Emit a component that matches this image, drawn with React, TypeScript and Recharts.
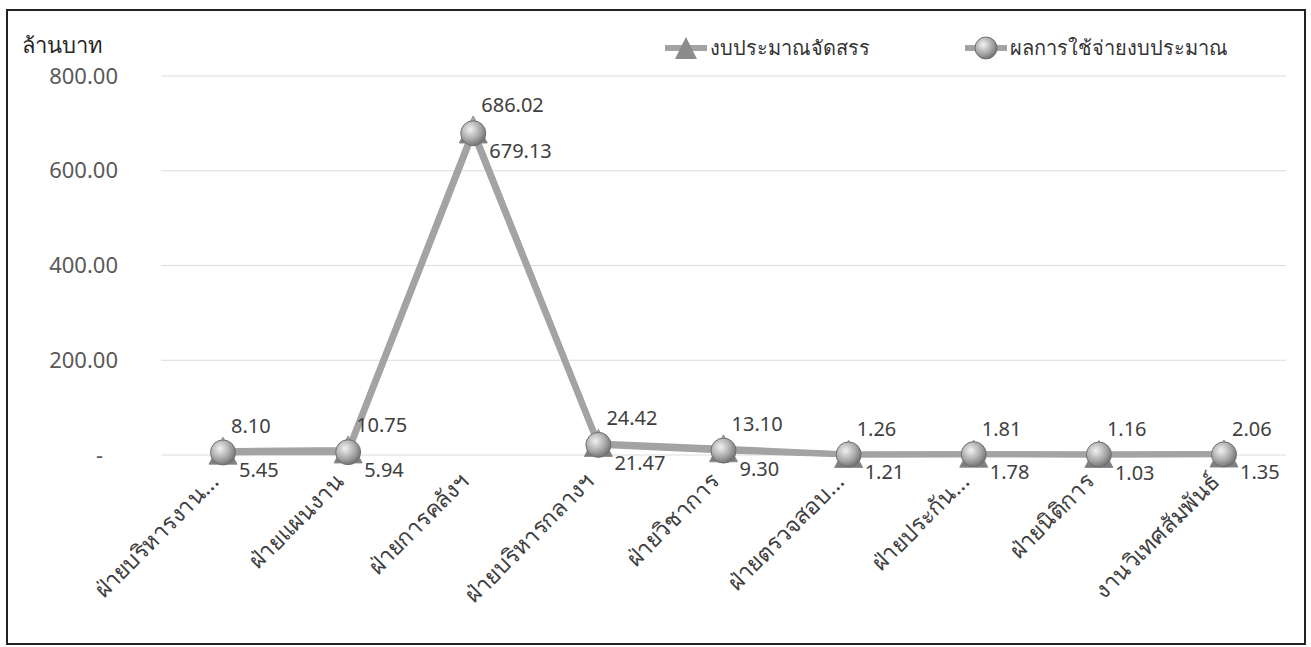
import React from 'react';
import { LineChart, Line, XAxis, YAxis, CartesianGrid, Legend } from 'recharts';

const categories = [
  'ฝ่ายบริหารงาน...',
  'ฝ่ายแผนงาน',
  'ฝ่ายการคลังฯ',
  'ฝ่ายบริหารกลางฯ',
  'ฝ่ายวิชาการ',
  'ฝ่ายตรวจสอบ...',
  'ฝ่ายประกัน...',
  'ฝ่ายนิติการ',
  'งานวิเทศสัมพันธ์',
];
const allocated = [8.1, 10.75, 686.02, 24.42, 13.1, 1.26, 1.81, 1.16, 2.06];
const spent = [5.45, 5.94, 679.13, 21.47, 9.3, 1.21, 1.78, 1.03, 1.35];
const yTicks = [0, 200, 400, 600, 800];
const seriesNames = ['งบประมาณจัดสรร', 'ผลการใช้จ่ายงบประมาณ'];
const unitLabel = 'ล้านบาท';

const data = categories.map((name, i) => ({ name, allocated: allocated[i], spent: spent[i] }));

const FONT = '"Noto Sans", "DejaVu Sans", sans-serif';
const LINE_COLOR = '#a3a3a3';

const fmt = (v: number) => v.toFixed(2);

const YTick = (props: any) => {
  const { x, y, payload } = props;
  const v = payload.value;
  return (
    <text x={v === 0 ? x - 50 : x - 35} y={y} dy="0.35em" textAnchor="end" fill="#595959" fontSize={22} fontFamily={FONT}>
      {v === 0 ? '-' : fmt(v)}
    </text>
  );
};

const XTick = (props: any) => {
  const { x, y, payload } = props;
  const tx = x - 3;
  const ty = y + 20;
  return (
    <text x={tx} y={ty} textAnchor="end" fill="#404040" fontSize={23} fontFamily={FONT} transform={`rotate(-45, ${tx}, ${ty})`}>
      {payload.value}
    </text>
  );
};

const AllocLabel = (props: any) => {
  const { x, y, value } = props;
  return (
    <text x={x + 8} y={y - 25} dy="0.35em" textAnchor="start" fill="#404040" fontSize={20} fontFamily={FONT}>
      {fmt(value)}
    </text>
  );
};

const SpentLabel = (props: any) => {
  const { x, y, value } = props;
  return (
    <text x={x + 16} y={y + 18} dy="0.35em" textAnchor="start" fill="#404040" fontSize={20} fontFamily={FONT}>
      {fmt(value)}
    </text>
  );
};

const TriangleDot = (props: any) => {
  const { cx, cy, index } = props;
  if (cx == null || cy == null) return <g key={`t-${index}`} />;
  return (
    <path
      key={`t-${index}`}
      d={`M ${cx} ${cy - 14} L ${cx + 14} ${cy + 13} L ${cx - 14} ${cy + 13} Z`}
      fill="url(#triGrad)"
      stroke="#8c8c8c"
      strokeWidth={1}
    />
  );
};

const SphereDot = (props: any) => {
  const { cx, cy, index } = props;
  if (cx == null || cy == null) return <g key={`c-${index}`} />;
  return (
    <circle key={`c-${index}`} cx={cx} cy={cy} r={12.5} fill="url(#sphereGrad)" stroke="#6f6f6f" strokeWidth={1} />
  );
};

const LegendContent = () => (
  <div style={{ position: 'relative', height: 30, fontFamily: FONT, fontSize: 20, color: '#333' }}>
    <div style={{ position: 'absolute', left: 0, top: 0, display: 'flex', alignItems: 'center' }}>
      <svg width={46} height={30}>
        <line x1={2} y1={15} x2={44} y2={15} stroke={LINE_COLOR} strokeWidth={6} />
        <path d="M 23 4 L 34 26 L 12 26 Z" fill="#8c8c8c" />
      </svg>
      <span style={{ marginLeft: 1 }}>{seriesNames[0]}</span>
    </div>
    <div style={{ position: 'absolute', left: 300, top: 0, display: 'flex', alignItems: 'center' }}>
      <svg width={46} height={30}>
        <defs>
          <radialGradient id="legSphere" cx="0.38" cy="0.35" r="0.7">
            <stop offset="0%" stopColor="#f2f2f2" />
            <stop offset="60%" stopColor="#a6a6a6" />
            <stop offset="100%" stopColor="#6b6b6b" />
          </radialGradient>
        </defs>
        <line x1={2} y1={15} x2={44} y2={15} stroke={LINE_COLOR} strokeWidth={6} />
        <circle cx={23} cy={15} r={11} fill="url(#legSphere)" stroke="#6f6f6f" strokeWidth={1} />
      </svg>
      <span style={{ marginLeft: 1 }}>{seriesNames[1]}</span>
    </div>
  </div>
);

export default function App() {
  return (
    <div
      style={{
        position: 'absolute',
        left: 6,
        top: 9,
        width: 1300,
        height: 636,
        border: '2px solid #222',
        boxSizing: 'border-box',
        background: '#fff',
      }}
    >
      <div
        style={{
          position: 'absolute',
          left: 14,
          top: 22,
          fontFamily: FONT,
          fontSize: 22,
          lineHeight: 1,
          color: '#262626',
        }}
      >
        {unitLabel}
      </div>
      <LineChart width={1296} height={632} data={data} margin={{ top: 35, right: 18, bottom: 10, left: 0 }}>
        <defs>
          <radialGradient id="sphereGrad" cx="0.38" cy="0.35" r="0.7">
            <stop offset="0%" stopColor="#f2f2f2" />
            <stop offset="60%" stopColor="#a6a6a6" />
            <stop offset="100%" stopColor="#6b6b6b" />
          </radialGradient>
          <linearGradient id="triGrad" x1="0" y1="0" x2="0" y2="1">
            <stop offset="0%" stopColor="#b0b0b0" />
            <stop offset="100%" stopColor="#7a7a7a" />
          </linearGradient>
        </defs>
        <CartesianGrid vertical={false} stroke="#dcdcdc" strokeWidth={1} />
        <XAxis
          dataKey="name"
          interval={0}
          height={178}
          axisLine={false}
          tickLine={false}
          tick={<XTick />}
          padding={{ left: 62, right: 62 }}
        />
        <YAxis
          width={153}
          domain={[0, 800]}
          ticks={yTicks}
          axisLine={false}
          tickLine={false}
          tick={<YTick />}
        />
        <Legend
          verticalAlign="top"
          content={<LegendContent />}
          wrapperStyle={{ position: 'absolute', top: 21, left: 655, width: 620, height: 30 }}
        />
        <Line
          type="linear"
          dataKey="allocated"
          name={seriesNames[0]}
          stroke={LINE_COLOR}
          strokeWidth={6}
          dot={TriangleDot}
          activeDot={false}
          label={AllocLabel}
          isAnimationActive={false}
        />
        <Line
          type="linear"
          dataKey="spent"
          name={seriesNames[1]}
          stroke={LINE_COLOR}
          strokeWidth={6}
          dot={SphereDot}
          activeDot={false}
          label={SpentLabel}
          isAnimationActive={false}
        />
      </LineChart>
    </div>
  );
}
